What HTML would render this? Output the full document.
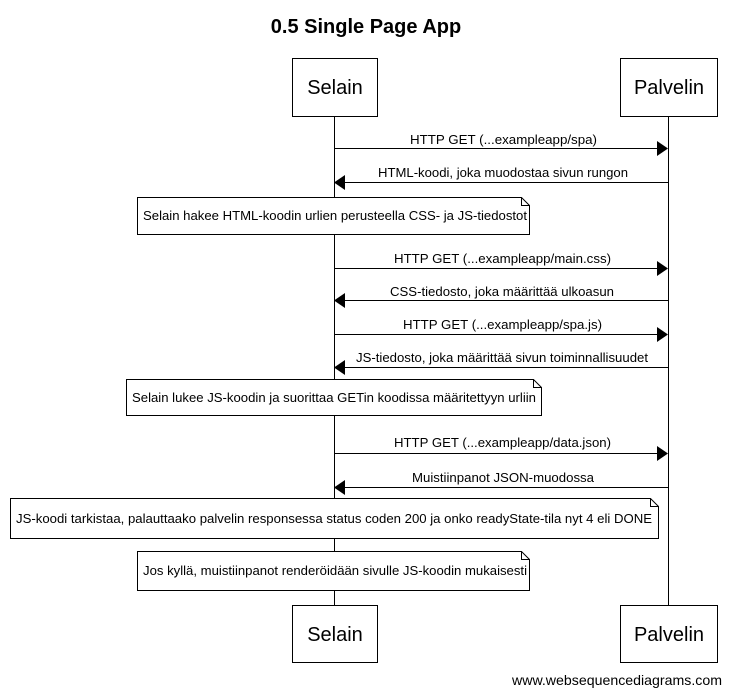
<!DOCTYPE html>
<html><head><meta charset="utf-8"><style>
html,body{margin:0;padding:0;background:#fff;}
svg{display:block;}
text{font-family:"Liberation Sans",sans-serif;fill:#000;}
</style></head><body>
<svg width="731" height="695" viewBox="0 0 731 695" xmlns="http://www.w3.org/2000/svg">
<text x="366" y="33" font-size="20" font-weight="bold" text-anchor="middle">0.5 Single Page App</text>
<g stroke="#000" stroke-width="1" fill="none">
<line x1="334.5" y1="116" x2="334.5" y2="605"/>
<line x1="668.5" y1="116" x2="668.5" y2="605"/>
</g>
<g stroke="#000" stroke-width="1" fill="#fff">
<rect x="292.5" y="58.5" width="85" height="58"/>
<rect x="620.5" y="58.5" width="97" height="58"/>
<rect x="292.5" y="605.5" width="85" height="57"/>
<rect x="620.5" y="605.5" width="97" height="57"/>
</g>
<g font-size="20" text-anchor="middle">
<text x="335" y="94">Selain</text>
<text x="669" y="94">Palvelin</text>
<text x="335" y="641">Selain</text>
<text x="669" y="641">Palvelin</text>
</g>
<g stroke="#000" stroke-width="1">
<line x1="334" y1="148.5" x2="658" y2="148.5"/>
<line x1="345" y1="182.5" x2="668" y2="182.5"/>
<line x1="334" y1="268.5" x2="658" y2="268.5"/>
<line x1="345" y1="300.5" x2="668" y2="300.5"/>
<line x1="334" y1="334.5" x2="658" y2="334.5"/>
<line x1="345" y1="367.5" x2="668" y2="367.5"/>
<line x1="334" y1="453.5" x2="658" y2="453.5"/>
<line x1="345" y1="487.5" x2="668" y2="487.5"/>
</g>
<g fill="#000">
<polygon points="668,148.5 657,141 657,156"/>
<polygon points="334,182.5 345,175 345,190"/>
<polygon points="668,268.5 657,261 657,276"/>
<polygon points="334,300.5 345,293 345,308"/>
<polygon points="668,334.5 657,327 657,342"/>
<polygon points="334,367.5 345,360 345,375"/>
<polygon points="668,453.5 657,446 657,461"/>
<polygon points="334,487.5 345,480 345,495"/>
</g>
<g font-size="13" lengthAdjust="spacingAndGlyphs">
<text x="410" y="144" textLength="187" lengthAdjust="spacingAndGlyphs">HTTP GET (...exampleapp/spa)</text>
<text x="378" y="177" textLength="250" lengthAdjust="spacingAndGlyphs">HTML-koodi, joka muodostaa sivun rungon</text>
<text x="394" y="263" textLength="217" lengthAdjust="spacingAndGlyphs">HTTP GET (...exampleapp/main.css)</text>
<text x="390" y="296" textLength="224" lengthAdjust="spacingAndGlyphs">CSS-tiedosto, joka määrittää ulkoasun</text>
<text x="403" y="329" textLength="199" lengthAdjust="spacingAndGlyphs">HTTP GET (...exampleapp/spa.js)</text>
<text x="356" y="362" textLength="292" lengthAdjust="spacingAndGlyphs">JS-tiedosto, joka määrittää sivun toiminnallisuudet</text>
<text x="394" y="447" textLength="217" lengthAdjust="spacingAndGlyphs">HTTP GET (...exampleapp/data.json)</text>
<text x="412" y="482" textLength="182" lengthAdjust="spacingAndGlyphs">Muistiinpanot JSON-muodossa</text>
</g>
<g stroke="#000" stroke-width="1" fill="#fff">
<path d="M137.5 197.5 H521.5 L529.5 205.5 V234.5 H137.5 Z"/>
<path d="M521.5 197.5 V205.5 H529.5" fill="none"/>
<path d="M126.5 379.5 H533.5 L541.5 387.5 V415.5 H126.5 Z"/>
<path d="M533.5 379.5 V387.5 H541.5" fill="none"/>
<path d="M10.5 498.5 H650.5 L658.5 506.5 V538.5 H10.5 Z"/>
<path d="M650.5 498.5 V506.5 H658.5" fill="none"/>
<path d="M137.5 551.5 H521.5 L529.5 559.5 V590.5 H137.5 Z"/>
<path d="M521.5 551.5 V559.5 H529.5" fill="none"/>
</g>
<g font-size="13">
<text x="143" y="220" textLength="384" lengthAdjust="spacingAndGlyphs">Selain hakee HTML-koodin urlien perusteella CSS- ja JS-tiedostot</text>
<text x="132" y="402" textLength="404" lengthAdjust="spacingAndGlyphs">Selain lukee JS-koodin ja suorittaa GETin koodissa määritettyyn urliin</text>
<text x="16" y="523" textLength="636" lengthAdjust="spacingAndGlyphs">JS-koodi tarkistaa, palauttaako palvelin responsessa status coden 200 ja onko readyState-tila nyt 4 eli DONE</text>
<text x="143" y="575" textLength="384" lengthAdjust="spacingAndGlyphs">Jos kyllä, muistiinpanot renderöidään sivulle JS-koodin mukaisesti</text>
</g>
<text x="512" y="685" font-size="14" textLength="210" lengthAdjust="spacingAndGlyphs">www.websequencediagrams.com</text>
</svg>
</body></html>
